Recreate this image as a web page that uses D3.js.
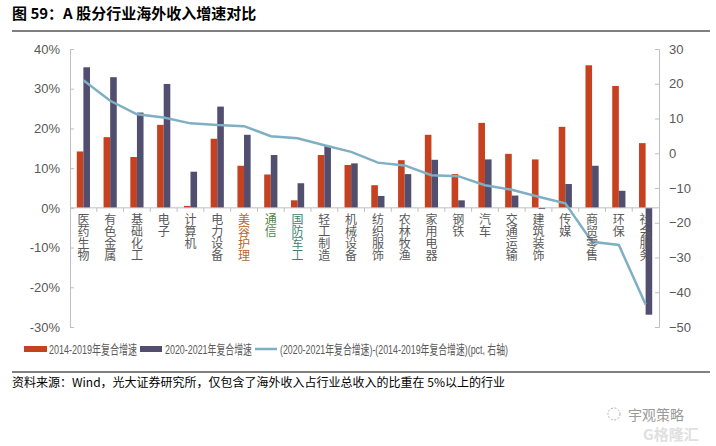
<!DOCTYPE html>
<html>
<head>
<meta charset="utf-8">
<script src="https://cdn.jsdelivr.net/npm/d3@7/dist/d3.min.js"></script>
<style>
  body { margin: 0; background: #fff; }
  text { font-family: "Liberation Sans", "Noto Sans CJK SC", sans-serif; }
</style>
</head>
<body>
<div id="chart"></div>
<script>
// industries, sorted by the change (right axis)
const categories = ['医药生物', '有色金属', '基础化工', '电子', '计算机', '电力设备', '美容护理', '通信',
  '国防军工', '轻工制造', '机械设备', '纺织服饰', '农林牧渔', '家用电器', '钢铁', '汽车',
  '交通运输', '建筑装饰', '传媒', '商贸零售', '环保', '社会服务'];
const growth1419 = [14.2, 17.8, 12.8, 20.9, 0.5, 17.4, 10.6, 8.4, 1.9, 13.3, 10.8, 5.7, 12.0, 18.4, 8.5, 21.4,
  13.6, 12.2, 20.4, 35.9, 30.7, 16.3];
const growth2021 = [35.4, 32.9, 24.0, 31.2, 9.1, 25.5, 18.4, 13.3, 6.2, 15.6, 11.2, 3.0, 8.5, 12.1, 1.9, 12.2,
  3.1, -0.3, 6.0, 10.6, 4.3, -26.9];
const diffPct = [21.0, 15.1, 11.2, 10.3, 8.6, 8.1, 7.8, 4.9, 4.3, 2.3, 0.4, -2.7, -3.5, -6.3, -6.6, -9.2,
  -10.5, -12.5, -14.4, -25.5, -26.4, -43.5];
const leftTicks = [-30, -20, -10, 0, 10, 20, 30, 40];
const rightTicks = [-50, -40, -30, -20, -10, 0, 10, 20, 30];
const legendLabels = ['2014-2019年复合增速', '2020-2021年复合增速', '(2020-2021年复合增速)-(2014-2019年复合增速)(pct, 右轴)'];
const labelColors = {'美容护理': '#b8652a', '通信': '#4d8a3e', '国防军工': '#3f7f70'};

const width = 716, height = 446;
const red = '#c6411f', navy = '#524e70', teal = '#7eafc2', grey = '#595959';

const svg = d3.select('#chart').append('svg')
    .attr('width', width)
    .attr('height', height);

// title
svg.append('text')
    .attr('x', 12).attr('y', 19)
    .style('font-family', '"Noto Sans CJK SC", sans-serif')
    .style('font-size', '15px').style('font-weight', 'bold')
    .text('图 59：A 股分行业海外收入增速对比');
svg.append('line')
    .attr('x1', 12).attr('x2', 710).attr('y1', 31).attr('y2', 31)
    .attr('stroke', '#000').attr('stroke-width', 1);

const plot = {left: 70, right: 659, top: 49, bottom: 327};

const x = d3.scaleBand().domain(categories).range([plot.left, plot.right]);
const y = d3.scaleLinear().domain([-30, 40]).range([plot.bottom, plot.top]);
const y2 = d3.scaleLinear().domain([-50, 30]).range([plot.bottom, plot.top]);
const bw = 6.6;

// axes
const leftAxis = svg.append('g')
    .attr('transform', `translate(${plot.left},0)`)
    .call(d3.axisLeft(y).tickValues(leftTicks).tickSize(-4).tickPadding(10).tickFormat(d => d + '%'));
const rightAxis = svg.append('g')
    .attr('transform', `translate(${plot.right},0)`)
    .call(d3.axisRight(y2).tickValues(rightTicks).tickSize(-4).tickPadding(10));
[leftAxis, rightAxis].forEach(a => {
  a.select('.domain').attr('stroke', '#bfbfbf');
  a.selectAll('.tick line').attr('stroke', '#bfbfbf');
  a.selectAll('.tick text').attr('fill', grey).style('font-size', '13px');
});

// bars
svg.append('g').selectAll('rect')
    .data(categories)
  .enter().append('rect')
    .attr('x', d => x(d) + x.bandwidth() / 2 - bw)
    .attr('y', (d, i) => y(Math.max(0, growth1419[i])))
    .attr('width', bw)
    .attr('height', (d, i) => Math.abs(y(growth1419[i]) - y(0)))
    .attr('fill', red);

svg.append('g').selectAll('rect')
    .data(categories)
  .enter().append('rect')
    .attr('x', d => x(d) + x.bandwidth() / 2)
    .attr('y', (d, i) => y(Math.max(0, growth2021[i])))
    .attr('width', bw)
    .attr('height', (d, i) => Math.abs(y(growth2021[i]) - y(0)))
    .attr('fill', navy);

// zero axis with ticks between categories
const zeroAxis = svg.append('g')
    .attr('transform', `translate(0,${y(0)})`);
zeroAxis.append('line')
    .attr('x1', plot.left).attr('x2', plot.right)
    .attr('stroke', '#bfbfbf');
zeroAxis.selectAll('.sep')
    .data(categories.slice(1))
  .enter().append('line')
    .attr('x1', d => x(d)).attr('x2', d => x(d))
    .attr('y1', 0).attr('y2', 4)
    .attr('stroke', '#bfbfbf');

// line on right axis
svg.append('path')
    .datum(diffPct)
    .attr('fill', 'none')
    .attr('stroke', teal)
    .attr('stroke-width', 2.5)
    .attr('d', d3.line()
      .x((d, i) => x(categories[i]) + x.bandwidth() / 2)
      .y(d => y2(d)));

// vertical category labels
svg.append('g').selectAll('text')
    .data(categories)
  .enter().append('text')
    .attr('x', d => x(d) + x.bandwidth() / 2)
    .attr('y', y(0) + 6)
    .attr('fill', d => labelColors[d] || grey)
    .style('font-family', '"Noto Sans CJK SC", sans-serif')
    .style('font-size', '12px')
    .style('writing-mode', 'vertical-rl')
    .style('text-orientation', 'upright')
    .text(d => d);

// legend
const lg = svg.append('g').attr('transform', 'translate(0,349)');
lg.append('rect').attr('x', 24).attr('y', -3).attr('width', 23).attr('height', 6).attr('fill', red);
lg.append('text').attr('x', 49).attr('y', 5).attr('textLength', 88).text(legendLabels[0]);
lg.append('rect').attr('x', 140).attr('y', -3).attr('width', 22).attr('height', 6).attr('fill', navy);
lg.append('text').attr('x', 165).attr('y', 5).attr('textLength', 87).text(legendLabels[1]);
lg.append('line').attr('x1', 255).attr('x2', 277).attr('stroke', teal).attr('stroke-width', 2.5);
lg.append('text').attr('x', 280).attr('y', 5).attr('textLength', 228).text(legendLabels[2]);
lg.selectAll('text')
    .attr('lengthAdjust', 'spacingAndGlyphs')
    .attr('fill', grey).style('font-size', '13px');

// source
svg.append('line')
    .attr('x1', 12).attr('x2', 710).attr('y1', 372).attr('y2', 372)
    .attr('stroke', '#000').attr('stroke-width', 1);
svg.append('text')
    .attr('x', 12).attr('y', 387)
    .style('font-family', '"Noto Sans CJK SC", sans-serif')
    .style('font-size', '12px')
    .text('资料来源：Wind，光大证券研究所，仅包含了海外收入占行业总收入的比重在 5%以上的行业');

// watermark
svg.append('text')
    .attr('x', 628).attr('y', 420)
    .attr('fill', '#9a9a9a')
    .style('font-family', '"Noto Sans CJK SC", sans-serif')
    .style('font-size', '14px')
    .text('宇观策略');
svg.append('text')
    .attr('x', 643).attr('y', 440)
    .attr('fill', '#e0e0e0')
    .style('font-family', '"Noto Sans CJK SC", sans-serif')
    .style('font-size', '15px')
    .style('font-weight', 'bold')
    .text('G格隆汇');
svg.append('circle')
    .attr('cx', 614).attr('cy', 414).attr('r', 6)
    .attr('fill', 'none').attr('stroke', '#b0b0b0').attr('stroke-dasharray', '2,1.5');
</script>
</body>
</html>
